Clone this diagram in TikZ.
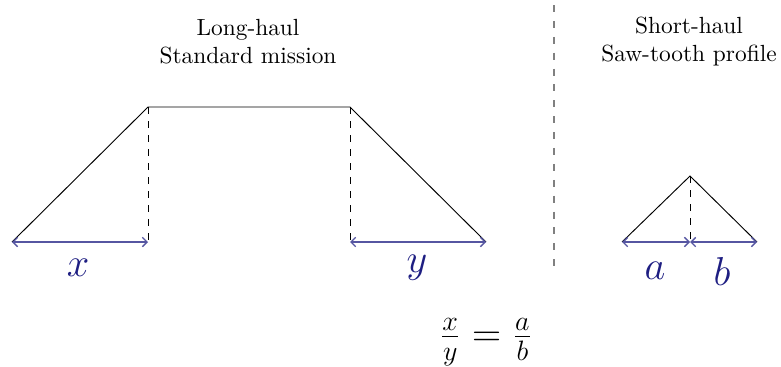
\documentclass[tikz,border=0pt]{standalone}
\usetikzlibrary{arrows.meta}
\definecolor{dimblue}{RGB}{30,30,130}
\tikzset{
  profile/.style={black, line width=0.4pt},
  guide/.style={black, dashed, line width=0.4pt},
  dim/.style={dimblue!75, line width=0.6pt, {Straight Barb[length=2pt,width=4pt]}-{Straight Barb[length=2pt,width=4pt]}},
  dimlabel/.style={text=dimblue, font=\LARGE},
  title/.style={align=center, font=\normalsize},
  sep/.style={gray, line width=0.8pt, dash pattern=on 3pt off 3.8pt}
}
\begin{document}
\begin{tikzpicture}[x=0.428pt,y=-0.428pt]
\useasboundingbox (0,0) rectangle (781,366);
% long haul
\coordinate (A) at (12,242);
\coordinate (B) at (148,107);
\coordinate (C) at (350,107);
\coordinate (D) at (486,242);
\coordinate (Bb) at (148,242);
\coordinate (Cb) at (350,242);
\draw[profile] (A) -- (B) -- (C) -- (D);
\draw[guide] (B) -- (Bb);
\draw[guide] (C) -- (Cb);
\draw[dim] (A) -- (Bb);
\draw[dim] (Cb) -- (D);
\node[dimlabel] (lx) at (78,268) {$x$};
\node[dimlabel] (ly) at (417,268) {$y$};
\node[title] (t1) at (248,42) {Long-haul\\Standard mission};
% separator
\coordinate (s1) at (554,5);
\coordinate (s2) at (554,272);
\draw[sep] (s1) -- (s2);
% short haul
\coordinate (P) at (622,242);
\coordinate (Q) at (690,176);
\coordinate (R) at (757,242);
\coordinate (Qb) at (690,242);
\draw[profile] (P) -- (Q) -- (R);
\draw[guide] (Q) -- (Qb);
\draw[dim] (P) -- (Qb);
\draw[dim] (Qb) -- (R);
\node[dimlabel] (la) at (655,271) {$a$};
\node[dimlabel] (lb) at (722,271) {$b$};
\node[title] (t2) at (689,42) {Short-haul\\Saw-tooth profile};
% equation
\node[font=\LARGE] (eq) at (486,342) {$\frac{x}{y} = \frac{a}{b}$};
\end{tikzpicture}
\end{document}
